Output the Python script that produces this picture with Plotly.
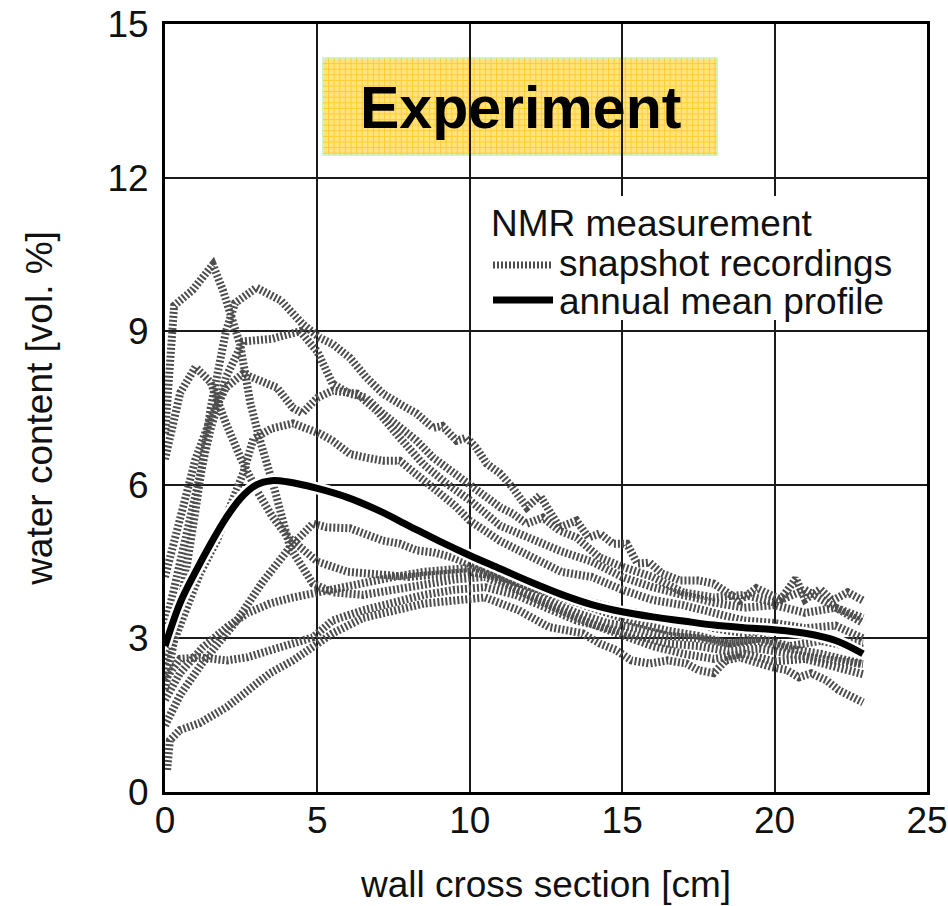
import numpy as np
import plotly.graph_objects as go

# ---------------- data ----------------
x_ticks = [0, 5, 10, 15, 20, 25]
y_ticks = [0, 3, 6, 9, 12, 15]

# snapshot recordings (NMR)
s1_x = [0, 0.15, 0.3, 0.9, 1.57, 1.9, 2.46, 2.8, 3.1, 3.6, 4.1, 4.85, 5.5, 6.5, 7.5, 8.5, 9.5, 10.5, 11.5, 12.5, 13.5, 14.5, 15.5, 16.5, 17.5, 18.5, 19.5, 20.5, 21.5, 22.9]
s1_y = [7.0, 8.3, 9.5, 9.8, 10.3, 9.8, 8.75, 7.6, 6.9, 5.9, 4.78, 4.07, 3.9, 3.85, 3.95, 4.05, 4.15, 4.2, 3.95, 3.75, 3.5, 3.3, 3.2, 3.05, 3.0, 2.9, 2.95, 2.8, 2.7, 2.5]

s2_x = [0, 0.5, 1.0, 1.5, 2.0, 2.3, 3.0, 3.8, 4.5, 5.08, 5.5, 6.07, 6.6, 7.15, 7.7, 8.26, 8.8, 9.1, 9.57, 9.9, 10.2, 10.56, 11.0, 11.4, 11.87, 12.3, 12.6, 12.95, 13.5, 13.9, 14.26, 14.7, 15.15, 15.5, 15.9, 16.3, 16.9, 17.5, 18.0, 18.4, 18.85, 19.4, 19.7, 20.2, 20.7, 21.0, 21.5, 21.9, 22.4, 22.9]
s2_y = [2.0, 3.6, 5.5, 7.5, 9.0, 9.55, 9.85, 9.6, 9.15, 8.87, 8.75, 8.48, 8.1, 7.78, 7.58, 7.39, 7.11, 7.15, 6.86, 6.92, 6.73, 6.41, 6.22, 5.95, 5.56, 5.79, 5.5, 5.17, 5.3, 4.97, 5.05, 4.85, 4.85, 4.46, 4.48, 4.27, 4.13, 4.13, 4.07, 3.9, 3.74, 3.98, 3.9, 3.76, 4.17, 3.76, 3.96, 3.74, 3.9, 3.74]

s3_x = [0, 0.5, 1.0, 1.5, 2.0, 2.56, 3.5, 4.43, 5.0, 5.5, 6.07, 6.6, 7.15, 7.7, 8.26, 8.8, 9.34, 9.9, 11.0, 11.4, 11.87, 12.4, 12.95, 13.5, 13.9, 14.26, 15.0, 16.0, 17.0, 18.0, 19.0, 20.0, 21.0, 22.0, 22.9]
s3_y = [3.2, 4.5, 5.9, 7.1, 8.1, 8.8, 8.85, 9.0, 8.6, 7.97, 7.78, 7.7, 7.39, 7.11, 6.86, 6.53, 6.28, 6.02, 5.56, 5.44, 5.24, 5.36, 5.1, 4.97, 4.78, 4.58, 4.4, 4.2, 3.9, 3.8, 3.85, 3.7, 3.95, 3.6, 3.4]

s4_x = [0, 0.5, 1.0, 1.5, 2.0, 2.56, 3.1, 3.67, 4.2, 4.5, 5.0, 5.5, 6.3, 6.95, 7.7, 8.46, 9.25, 10.0, 11.0, 12.0, 13.0, 14.0, 15.0, 16.0, 17.0, 18.0, 19.0, 20.0, 21.0, 22.0, 22.9]
s4_y = [4.2, 5.4, 6.5, 7.3, 7.9, 8.17, 8.03, 7.9, 7.5, 7.4, 7.7, 7.84, 7.78, 7.45, 6.92, 6.41, 6.02, 5.7, 5.2, 4.95, 4.7, 4.5, 4.2, 4.0, 3.85, 3.7, 3.6, 3.65, 3.5, 3.6, 3.3]

s5_x = [0, 0.49, 1.15, 1.7, 2.13, 2.56, 2.9, 3.5, 4.2, 5.08, 5.5, 6.07, 6.6, 7.15, 7.7, 8.26, 8.8, 9.5, 10.0, 11.0, 12.0, 13.0, 14.0, 15.0, 16.0, 17.0, 18.0, 19.0, 20.0, 21.0, 22.0, 22.9]
s5_y = [2.5, 3.29, 4.27, 4.91, 5.56, 6.22, 6.9, 7.1, 7.2, 7.0, 6.86, 6.6, 6.53, 6.47, 6.47, 6.2, 5.9, 5.6, 5.3, 4.9, 4.6, 4.3, 4.2, 3.95, 3.75, 3.65, 3.5, 3.35, 3.3, 3.2, 3.25, 3.0]

s6_x = [0, 0.5, 1.2, 2.36, 3.2, 4.1, 4.85, 5.3, 6.07, 6.6, 7.15, 7.7, 8.26, 8.8, 9.44, 10.0, 11.0, 12.07, 13.2, 14.26, 15.3, 16.0, 17.0, 18.0, 19.0, 20.0, 21.0, 22.0, 22.9]
s6_y = [1.3, 1.9, 2.5, 3.35, 4.1, 4.78, 5.24, 5.17, 5.15, 5.05, 4.91, 4.85, 4.72, 4.68, 4.58, 4.45, 4.13, 3.8, 3.49, 3.22, 3.0, 2.85, 2.7, 2.6, 2.7, 2.55, 2.6, 2.45, 2.3]

s7_x = [0.07, 0.16, 0.49, 1.15, 2.03, 2.69, 3.44, 4.2, 4.85, 5.5, 6.5, 7.5, 8.5, 9.5, 10.5, 11.6, 12.6, 13.7, 14.26, 14.8, 15.3, 15.9, 16.5, 17.1, 17.5, 18.0, 18.4, 18.85, 19.4, 19.9, 20.4, 20.8, 21.2, 21.7, 22.1, 22.7, 22.9]
s7_y = [0.43, 1.01, 1.21, 1.35, 1.66, 1.99, 2.32, 2.57, 2.83, 3.1, 3.4, 3.55, 3.68, 3.74, 3.8, 3.55, 3.22, 3.1, 2.9, 2.77, 2.57, 2.51, 2.57, 2.51, 2.38, 2.32, 2.57, 2.63, 2.51, 2.44, 2.38, 2.24, 2.32, 2.18, 1.99, 1.79, 1.75]

s8_x = [0, 0.49, 1.25, 2.03, 2.69, 3.44, 4.2, 4.85, 5.5, 6.5, 7.5, 8.5, 9.5, 10.5, 11.5, 12.5, 13.5, 14.5, 15.5, 16.5, 17.5, 18.5, 19.5, 20.5, 21.5, 22.9]
s8_y = [1.8, 2.32, 2.83, 3.22, 3.49, 3.68, 3.8, 3.88, 3.95, 4.1, 4.2, 4.3, 4.35, 4.4, 4.1, 3.9, 3.7, 3.5, 3.3, 3.15, 3.05, 2.9, 3.0, 2.85, 2.95, 2.8]

s9_x = [0, 0.5, 1.15, 2.03, 2.69, 3.44, 4.2, 4.85, 5.5, 6.5, 7.5, 8.5, 9.5, 10.5, 11.5, 12.5, 13.5, 14.5, 15.5, 16.5, 17.5, 18.5, 19.5, 20.5, 21.5, 22.9]
s9_y = [2.2, 2.6, 2.63, 2.57, 2.63, 2.77, 2.9, 3.02, 3.35, 3.55, 3.7, 3.85, 3.95, 4.0, 3.85, 3.6, 3.35, 3.2, 3.05, 2.9, 2.85, 2.75, 2.8, 2.7, 2.6, 2.5]

s10_x = [0, 0.5, 1.0, 1.5, 2.0, 2.5, 3.0, 3.5, 4.0, 5.0, 6.0, 7.0, 8.0, 9.0, 10.0, 11.0, 12.0, 13.0, 14.0, 15.0, 16.0, 17.0, 18.0, 19.0, 20.0, 21.0, 22.0, 22.9]
s10_y = [6.5, 7.8, 8.3, 8.0, 7.2, 6.5, 5.9, 5.4, 5.0, 4.5, 4.3, 4.25, 4.2, 4.25, 4.3, 4.2, 4.0, 3.85, 3.7, 3.55, 3.45, 3.35, 3.2, 3.1, 3.2, 3.05, 2.95, 2.9]

snapshots = [(s1_x, s1_y), (s2_x, s2_y), (s3_x, s3_y), (s4_x, s4_y), (s5_x, s5_y),
             (s6_x, s6_y), (s7_x, s7_y), (s8_x, s8_y), (s9_x, s9_y), (s10_x, s10_y)]

# annual mean profile
mean_x = [0, 0.5, 1, 1.5, 2, 2.5, 3, 3.5, 4, 5, 6, 7, 8, 9, 10, 11, 12, 13, 14, 15, 16, 17, 18, 19, 20, 21, 22, 22.9]
mean_y = [2.85, 3.7, 4.3, 4.85, 5.35, 5.75, 6.0, 6.08, 6.06, 5.93, 5.75, 5.5, 5.2, 4.9, 4.62, 4.36, 4.1, 3.86, 3.66, 3.52, 3.42, 3.34, 3.26, 3.21, 3.17, 3.1, 2.96, 2.7]

# ---------------- figure ----------------
FONT = "Liberation Sans, Arial, sans-serif"
FS = 37
W, H = 948, 906
ML, MR, MT, MB = 165, 21, 24, 114
PW, PH = W - ML - MR, H - MT - MB

def px2paper(px, py):
    return (px - ML) / PW, (H - MB - py) / PH

fig = go.Figure()

snap_color = "#4d4d4d"
for sx, sy in snapshots:
    fig.add_trace(go.Scatter(x=sx, y=sy, mode="lines", showlegend=False,
                             line=dict(color=snap_color, width=8, dash="2px,2px"),
                             hoverinfo="skip"))

fig.add_trace(go.Scatter(x=mean_x, y=mean_y, mode="lines", showlegend=False,
                         line=dict(color="white", width=12, shape="spline", smoothing=1.0), hoverinfo="skip"))
fig.add_trace(go.Scatter(x=mean_x, y=mean_y, mode="lines", showlegend=False,
                         line=dict(color="black", width=7, shape="spline", smoothing=1.0)))

shapes = []
annotations = []

# "Experiment" label box with a fine yellow grid
bx0, by0 = px2paper(323, 155)
bx1, by1 = px2paper(717, 58)
shapes.append(dict(type="rect", xref="paper", yref="paper", x0=bx0, x1=bx1, y0=by0, y1=by1,
                   fillcolor="#ffe47e", line=dict(color="#ccf5c8", width=2), layer="below"))
step = 5.6
path = ""
for px in np.arange(323 + step, 717, step):
    a, b0 = px2paper(px, 155)
    _, b1 = px2paper(px, 58)
    path += f"M{a},{b0} L{a},{b1} "
for py in np.arange(58 + step, 155, step):
    a0, b = px2paper(323, py)
    a1, _ = px2paper(717, py)
    path += f"M{a0},{b} L{a1},{b} "
shapes.append(dict(type="path", xref="paper", yref="paper", path=path,
                   line=dict(color="#ffcc33", width=1), layer="below"))
ex, ey = px2paper(520, 108)
annotations.append(dict(x=ex, y=ey, xref="paper", yref="paper", text="<b>Experiment</b>",
                        showarrow=False, font=dict(family="Liberation Sans, Arial", size=59, color="black"),
                        xanchor="center", yanchor="middle"))

# legend (drawn manually)
lx0, ly0 = px2paper(484, 320)
lx1, ly1 = px2paper(897, 196)
shapes.append(dict(type="rect", xref="paper", yref="paper", x0=lx0, x1=lx1, y0=ly0, y1=ly1,
                   fillcolor="white", line=dict(width=0), layer="above"))
sa, sb = px2paper(493, 265)
sc, _ = px2paper(553, 265)
shapes.append(dict(type="line", xref="paper", yref="paper", x0=sa, x1=sc, y0=sb, y1=sb,
                   line=dict(color=snap_color, width=7, dash="2px,2px"), layer="above"))
sa, sb = px2paper(493, 300)
sc, _ = px2paper(553, 300)
shapes.append(dict(type="line", xref="paper", yref="paper", x0=sa, x1=sc, y0=sb, y1=sb,
                   line=dict(color="black", width=7), layer="above"))
for txt, px, py in [("NMR measurement", 489, 223), ("snapshot recordings", 557, 263),
                    ("annual mean profile", 557, 301)]:
    a, b = px2paper(px, py)
    annotations.append(dict(x=a, y=b, xref="paper", yref="paper", text=txt, showarrow=False,
                            xanchor="left", yanchor="middle",
                            font=dict(family=FONT, size=FS, color="#111")))

axis_common = dict(showgrid=True, gridcolor="#1a1a1a", gridwidth=2, zeroline=False,
                   showline=True, linecolor="black", linewidth=3, mirror=True, ticks="",
                   ticklabeloverflow="allow",
                   tickfont=dict(family=FONT, size=FS, color="#111"))

fig.update_layout(
    width=W, height=H,
    margin=dict(l=ML, r=MR, t=MT, b=MB, autoexpand=False),
    paper_bgcolor="white", plot_bgcolor="white",
    showlegend=False,
    shapes=shapes, annotations=annotations,
    xaxis=dict(range=[0, 25], tickvals=x_ticks, ticktext=[str(v) for v in x_ticks],
               title=dict(text="wall cross section [cm]", font=dict(family=FONT, size=FS, color="#111"), standoff=31),
               ticklabelstandoff=-6, **axis_common),
    yaxis=dict(range=[0, 15], tickvals=y_ticks, ticktext=[str(v) for v in y_ticks],
               title=dict(text="water content [vol. %]", font=dict(family=FONT, size=FS, color="#111"), standoff=44),
               ticklabelstandoff=6, **axis_common),
)

fig.write_html("out.html")
